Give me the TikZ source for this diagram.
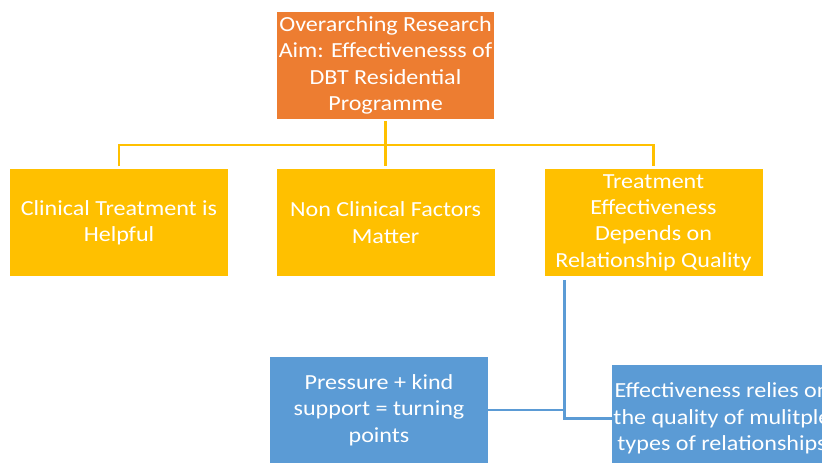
\documentclass[tikz,border=0pt]{standalone}
\usepackage{fontspec}
\setmainfont{Carlito}[FakeStretch=1.12]
\definecolor{aimOrange}{HTML}{ED7D31}
\definecolor{themeGold}{HTML}{FFC000}
\definecolor{findBlue}{HTML}{5B9BD5}
\begin{document}
\begin{tikzpicture}
  [x=1pt,y=-1pt,
   boxN/.style={minimum width=218pt, minimum height=107pt, inner sep=1pt,
                align=center, text=white, font=\fontsize{21.5}{26.3}\selectfont},
   aimN/.style={boxN,fill=aimOrange,minimum width=217pt},
   themeN/.style={boxN,fill=themeGold},
   findN/.style={boxN,fill=findBlue},
   goldL/.style={draw=themeGold,line width=2.6pt},
   blueL/.style={draw=findBlue,line width=2.6pt},
  ]

 \fill[white] (0,0) rectangle (822,463);
 \useasboundingbox (0,0) rectangle (822,463);
 \clip (0,0) rectangle (822,463);

 % research aim and the three themes
 \node[aimN] (aim) at (385.5,65.5) {Overarching Research\\Aim: Effectivenesss of\\DBT Residential\\Programme};
 \node[themeN] (clin) at (119,222.5) {Clinical Treatment is\\Helpful};
 \node[themeN] (nonclin) at (385.5,222.5) {Non Clinical Factors\\Matter};
 \node[themeN] (rel) at (653.5,222.5) {Treatment\\Effectiveness\\Depends on\\Relationship Quality};

 % sub-findings under the relationship theme
 \node[findN] (press) at (379,410) {Pressure + kind\\support = turning\\points};
 \node[findN] (multi) at (722,418.5) {Effectiveness relies on\\the quality of mulitple\\types of relationships};

 % gold tree
 \coordinate (bar) at (385.5,145);
 \draw[goldL] ([yshift=-2pt]aim.south) -- ([yshift=2.5pt]nonclin.north);
 \draw[goldL] ([yshift=2.5pt]clin.north) |- (bar) -| ([yshift=2.5pt]rel.north);

 % blue branch
 \coordinate (trunk) at ([xshift=20pt,yshift=-4pt]rel.south west);
 \draw[blueL] (trunk) |- (multi.west);
 \draw[blueL] (press.east) -- (press.east -| trunk);
\end{tikzpicture}
\end{document}
